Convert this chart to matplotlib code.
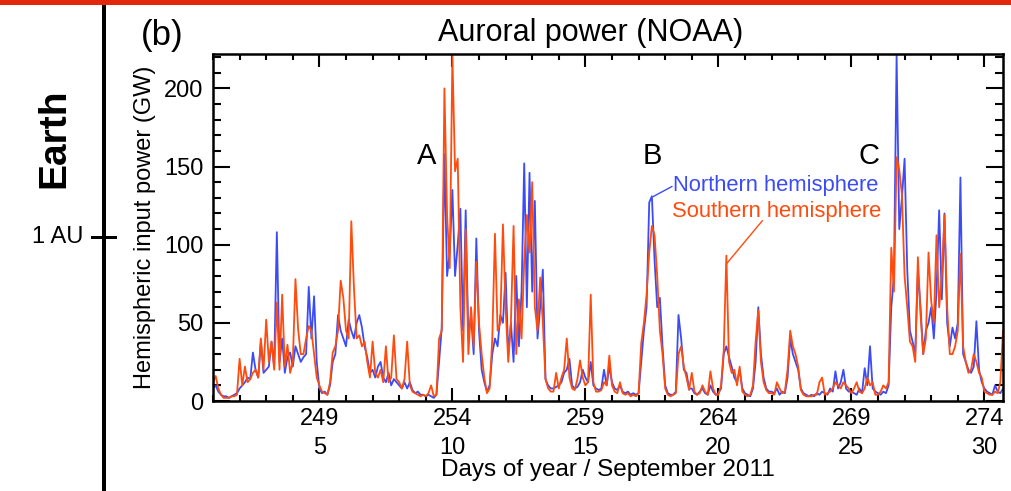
import numpy as np
import matplotlib
matplotlib.use("Agg")
import matplotlib.pyplot as plt
from matplotlib.ticker import MultipleLocator
from matplotlib.patches import Rectangle

plt.rcParams['font.family'] = ['Liberation Sans', 'DejaVu Sans']

# hemispheric input power (GW), every 0.1 day from day 245.0
north = [
    8, 10, 6, 4, 3, 3, 2, 3, 4, 5,            # 245
    8, 10, 12, 15, 14, 31, 20, 15, 38, 18,    # 246
    20, 22, 38, 22, 108, 25, 40, 18, 28, 31,  # 247
    22, 35, 30, 25, 28, 30, 73, 40, 67, 25,   # 248
    8, 5, 6, 4, 10, 25, 30, 55, 45, 40,       # 249
    35, 52, 45, 40, 50, 55, 47, 35, 28, 18,   # 250
    20, 15, 22, 25, 15, 12, 18, 10, 14, 12,   # 251
    10, 8, 12, 8, 12, 7, 5, 6, 4, 4,          # 252
    3, 4, 3, 2, 4, 25, 47, 158, 80, 95,       # 253
    135, 80, 100, 123, 45, 122, 40, 55, 30, 104,  # 254
    45, 20, 12, 6, 10, 30, 40, 35, 55, 50,    # 255
    82, 30, 50, 25, 80, 35, 70, 152, 60, 146, # 256
    70, 128, 40, 60, 84, 14, 10, 8, 8, 9,     # 257
    10, 12, 18, 20, 27, 10, 8, 9, 12, 20,     # 258
    15, 12, 25, 10, 8, 7, 8, 20, 10, 22,      # 259
    12, 8, 7, 10, 6, 5, 6, 4, 5, 4,           # 260
    5, 25, 45, 60, 127, 131, 90, 60, 66, 35,  # 261
    10, 5, 4, 4, 6, 55, 40, 20, 18, 8,        # 262
    8, 5, 4, 6, 8, 5, 4, 10, 6, 4,            # 263
    5, 8, 30, 35, 28, 22, 15, 12, 20, 8,      # 264
    5, 4, 3, 8, 25, 60, 30, 15, 8, 6,         # 265
    6, 5, 8, 4, 6, 5, 15, 40, 30, 25,         # 266
    20, 8, 5, 4, 3, 4, 3, 5, 4, 6,            # 267
    5, 4, 8, 6, 19, 8, 12, 20, 8, 6,          # 268
    6, 5, 4, 8, 5, 21, 10, 35, 8, 6,          # 269
    5, 4, 6, 5, 10, 60, 80, 221, 110, 130,    # 270
    155, 84, 45, 38, 30, 83, 60, 30, 45, 50,  # 271
    60, 40, 70, 122, 65, 120, 50, 35, 47, 40, # 272
    50, 143, 30, 25, 20, 18, 22, 51, 20, 12,  # 273
    8, 6, 5, 4, 10, 6, 5, 8,                  # 274
]
south = [
    12, 16, 8, 4, 2, 2, 2, 3, 3, 4,
    27, 10, 22, 12, 14, 18, 20, 15, 40, 20,
    52, 25, 38, 20, 63, 20, 68, 22, 36, 18,
    25, 78, 46, 30, 30, 40, 48, 45, 30, 15,
    10, 6, 5, 4, 12, 31, 35, 45, 77, 66,
    45, 40, 115, 72, 40, 42, 35, 38, 25, 15,
    38, 18, 15, 20, 12, 35, 12, 15, 42, 14,
    12, 8, 14, 38, 10, 6, 5, 4, 3, 4,
    3, 5, 10, 3, 4, 40, 45, 200, 119, 85,
    221, 147, 155, 60, 25, 110, 30, 60, 35, 89,
    50, 30, 15, 5, 8, 40, 107, 45, 50, 113,
    60, 25, 50, 112, 30, 65, 40, 90, 119, 95,
    140, 60, 45, 79, 50, 14, 8, 6, 6, 18,
    8, 15, 20, 40, 15, 8, 7, 14, 26, 15,
    10, 12, 68, 12, 6, 6, 7, 12, 10, 29,
    10, 6, 5, 12, 5, 4, 5, 3, 4, 3,
    5, 37, 50, 68, 95, 112, 106, 80, 45, 30,
    8, 4, 3, 4, 5, 30, 35, 22, 15, 7,
    18, 6, 4, 5, 10, 6, 4, 19, 8, 4,
    4, 10, 32, 93, 25, 18, 20, 10, 22, 6,
    4, 3, 4, 10, 38, 58, 25, 12, 7, 5,
    5, 4, 12, 8, 5, 6, 20, 45, 35, 30,
    22, 7, 4, 3, 3, 3, 4, 4, 12, 15,
    4, 5, 6, 8, 12, 10, 8, 12, 10, 8,
    5, 8, 12, 6, 5, 8, 15, 10, 12, 4,
    4, 6, 10, 8, 12, 98, 70, 156, 148, 132,
    80, 60, 38, 35, 25, 92, 55, 30, 40, 95,
    64, 50, 106, 60, 80, 119, 60, 30, 30, 35,
    45, 94, 35, 25, 18, 20, 30, 25, 18, 15,
    6, 5, 4, 4, 6, 5, 12, 45,
]
doy = 245.0 + 0.1 * np.arange(len(north))

tick_doy = [249, 254, 259, 264, 269, 274]
tick_sep = [5, 10, 15, 20, 25, 30]
events = ["A", "B", "C"]
event_doy = [253.03, 261.51, 269.68]
event_gw = [157, 157, 157]

BLUE = '#3b4cf7'
ORANGE = '#ff4b0d'
RED = '#e2280c'

fig = plt.figure(figsize=(10.11, 4.91), dpi=100)
ax = fig.add_axes([213 / 1011, 1 - 401 / 491, 790 / 1011, 347 / 491])

ax.plot(doy, north, color=BLUE, lw=1.3)
ax.plot(doy, south, color=ORANGE, lw=1.3)

ax.set_xlim(245, 274.7)
ax.set_ylim(0, 222)
ax.set_xticks(tick_doy)
ax.set_xticklabels([f"{d}\n{s}" for d, s in zip(tick_doy, tick_sep)], linespacing=1.4)
ax.xaxis.set_minor_locator(MultipleLocator(1))
ax.set_yticks([0, 50, 100, 150, 200])
ax.yaxis.set_minor_locator(MultipleLocator(10))
ax.tick_params(which='both', direction='in', top=True, right=True, width=1.5, labelsize=17)
ax.tick_params(axis='x', which='major', length=9.5, pad=5)
ax.tick_params(axis='x', which='minor', length=4.5)
ax.tick_params(axis='y', which='major', length=12, pad=7)
ax.tick_params(axis='y', which='minor', length=6)
for sp in ax.spines.values():
    sp.set_linewidth(1.8)

ax.set_xlabel("Days of year / September 2011", fontsize=17.5, labelpad=0)
ax.set_ylabel("Hemispheric input power (GW)", fontsize=17)
ax.yaxis.set_label_coords(-0.072, 0.5)

for lab, x, y in zip(events, event_doy, event_gw):
    ax.text(x, y, lab, fontsize=21, ha='center', va='center')

# legend text with leader lines
ax.text(262.3, 134.5, "Northern hemisphere", color=BLUE, fontsize=15.8, va='baseline')
ax.text(262.25, 118, "Southern hemisphere", color=ORANGE, fontsize=15.8, va='baseline')
ax.plot([262.25, 261.55], [137.2, 130.8], color=BLUE, lw=1.0)
ax.plot([265.65, 264.29], [115.3, 87.5], color=ORANGE, lw=1.0)

fig.text(591 / 1011, 1 - 33 / 491, "Auroral power (NOAA)", fontsize=22, ha='center', va='center')
fig.text(162 / 1011, 1 - 35 / 491, "(b)", fontsize=25, ha='center', va='center')

# left side panel decoration
fig.add_artist(Rectangle((0, 1 - 4.5 / 491), 1, 4.5 / 491, transform=fig.transFigure, color=RED, lw=0))
fig.add_artist(Rectangle((101.5 / 1011, 0), 4 / 1011, 1 - 4.5 / 491, transform=fig.transFigure, color='black', lw=0))
fig.add_artist(Rectangle((90.7 / 1011, 1 - 238.5 / 491), 26 / 1011, 3 / 491, transform=fig.transFigure, color='black', lw=0))
fig.text(83 / 1011, 1 - 237 / 491, "1 AU", fontsize=17, ha='right', va='center')
fig.text(54 / 1011, 1 - 138 / 491, "Earth", fontsize=28, fontweight='bold', rotation=90, ha='center', va='center')

fig.savefig("out.png", dpi=100)
